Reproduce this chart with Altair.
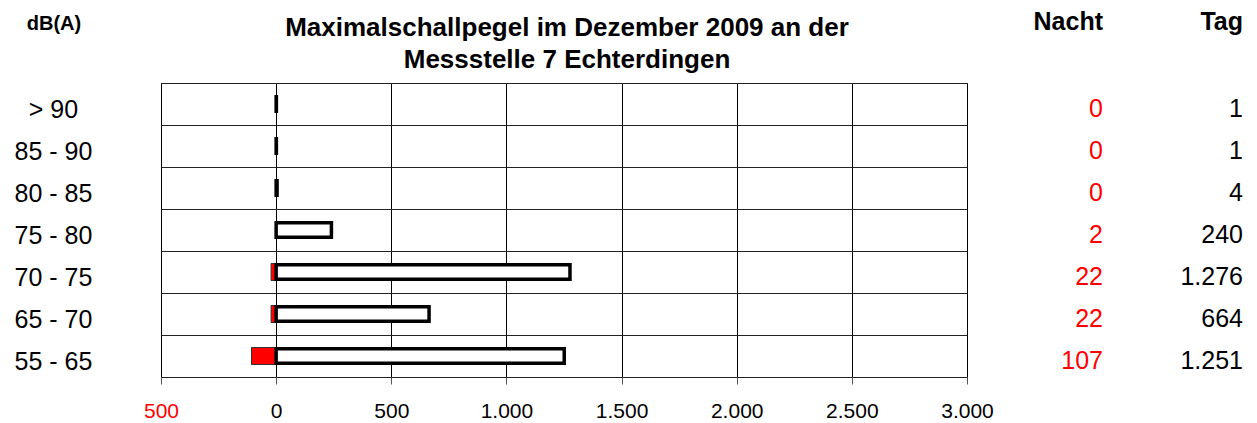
import altair as alt
import pandas as pd

categories = ["> 90", "85 - 90", "80 - 85", "75 - 80", "70 - 75", "65 - 70", "55 - 65"]
nacht = [0, 0, 0, 2, 22, 22, 107]
tag = [1, 1, 4, 240, 1276, 664, 1251]
x_ticks = [-500, 0, 500, 1000, 1500, 2000, 2500, 3000]

title_lines = ["Maximalschallpegel im Dezember 2009 an der", "Messstelle 7 Echterdingen"]

FONT = "Liberation Sans"
RED = "#FF0000"


def de(v):
    return f"{v:,}".replace(",", ".")


df = pd.DataFrame({
    "cat": categories,
    "nacht": nacht,
    "nacht_neg": [-v for v in nacht],
    "tag": tag,
    "nacht_txt": [de(v) for v in nacht],
    "tag_txt": [de(v) for v in tag],
})

W, H = 806, 294

xscale = alt.Scale(domain=[-500, 3000], nice=False, zero=False)
yscale = alt.Scale(domain=categories, paddingInner=0, paddingOuter=0)

xaxis = alt.Axis(
    values=x_ticks,
    labelExpr="replace(format(abs(datum.value), ','), ',', '.')",
    labelColor={"condition": {"test": "datum.value < 0", "value": RED}, "value": "black"},
    labelFontSize=21,
    labelFont=FONT,
    labelPadding=16,
    labelFlush=False,
    labelOverlap=False,
    tickSize=7,
    tickColor="#555555",
    domain=False,
    grid=True,
    gridColor="black",
    gridOpacity=1,
    gridWidth=1,
    title=None,
)
yaxis = alt.Axis(
    labelFontSize=25,
    labelFont=FONT,
    labelColor="black",
    labelAlign="center",
    labelPadding=108,
    labelOffset=5,
    ticks=False,
    tickSize=0,
    tickBand="extent",
    domain=False,
    grid=True,
    gridColor="#222222",
    gridOpacity=1,
    gridWidth=1,
    title=None,
)

base = alt.Chart(df)

night_bars = base.mark_bar(size=17, color=RED, stroke="#333333", strokeWidth=1).encode(
    x=alt.X("nacht_neg:Q", scale=xscale, axis=xaxis),
    x2=alt.X2(datum=0),
    y=alt.Y("cat:N", scale=yscale, axis=yaxis, sort=categories),
)

day_bars = base.mark_bar(size=14.5, color="white", stroke="black", strokeWidth=3.5).encode(
    x=alt.X("tag:Q", scale=xscale),
    x2=alt.X2(datum=0),
    y=alt.Y("cat:N", scale=yscale, sort=categories),
)

night_txt = base.mark_text(align="right", baseline="middle", dy=5, fontSize=25, font=FONT, color=RED).encode(
    y=alt.Y("cat:N", scale=yscale, sort=categories),
    x=alt.value(942),
    text="nacht_txt:N",
)
day_txt = base.mark_text(align="right", baseline="middle", dy=5, fontSize=25, font=FONT, color="black").encode(
    y=alt.Y("cat:N", scale=yscale, sort=categories),
    x=alt.value(1082),
    text="tag_txt:N",
)


def label(text, x, y, size, align="center", bold=True):
    return alt.Chart(pd.DataFrame({"t": [text]})).mark_text(
        align=align, baseline="alphabetic", fontSize=size, font=FONT,
        fontWeight="bold" if bold else "normal", color="black",
    ).encode(text="t:N", x=alt.value(x), y=alt.value(y))


t1 = label(title_lines[0], 406, -47, 26)
t2 = label(title_lines[1], 406, -15, 26)
db = label("dB(A)", -107, -53, 20)
hn = label("Nacht", 942, -53, 25, align="right")
ht = label("Tag", 1082, -53, 25, align="right")

chart = alt.layer(night_bars, day_bars, night_txt, day_txt, t1, t2, db, hn, ht).properties(
    width=W,
    height=H,
    autosize=alt.AutoSizeParams(type="none"),
    padding={"left": 153, "top": 75, "right": 280, "bottom": 45},
    background="white",
).configure_view(stroke="black", strokeWidth=1)

chart.save("out.html", embed_options={"renderer": "svg", "actions": False})
